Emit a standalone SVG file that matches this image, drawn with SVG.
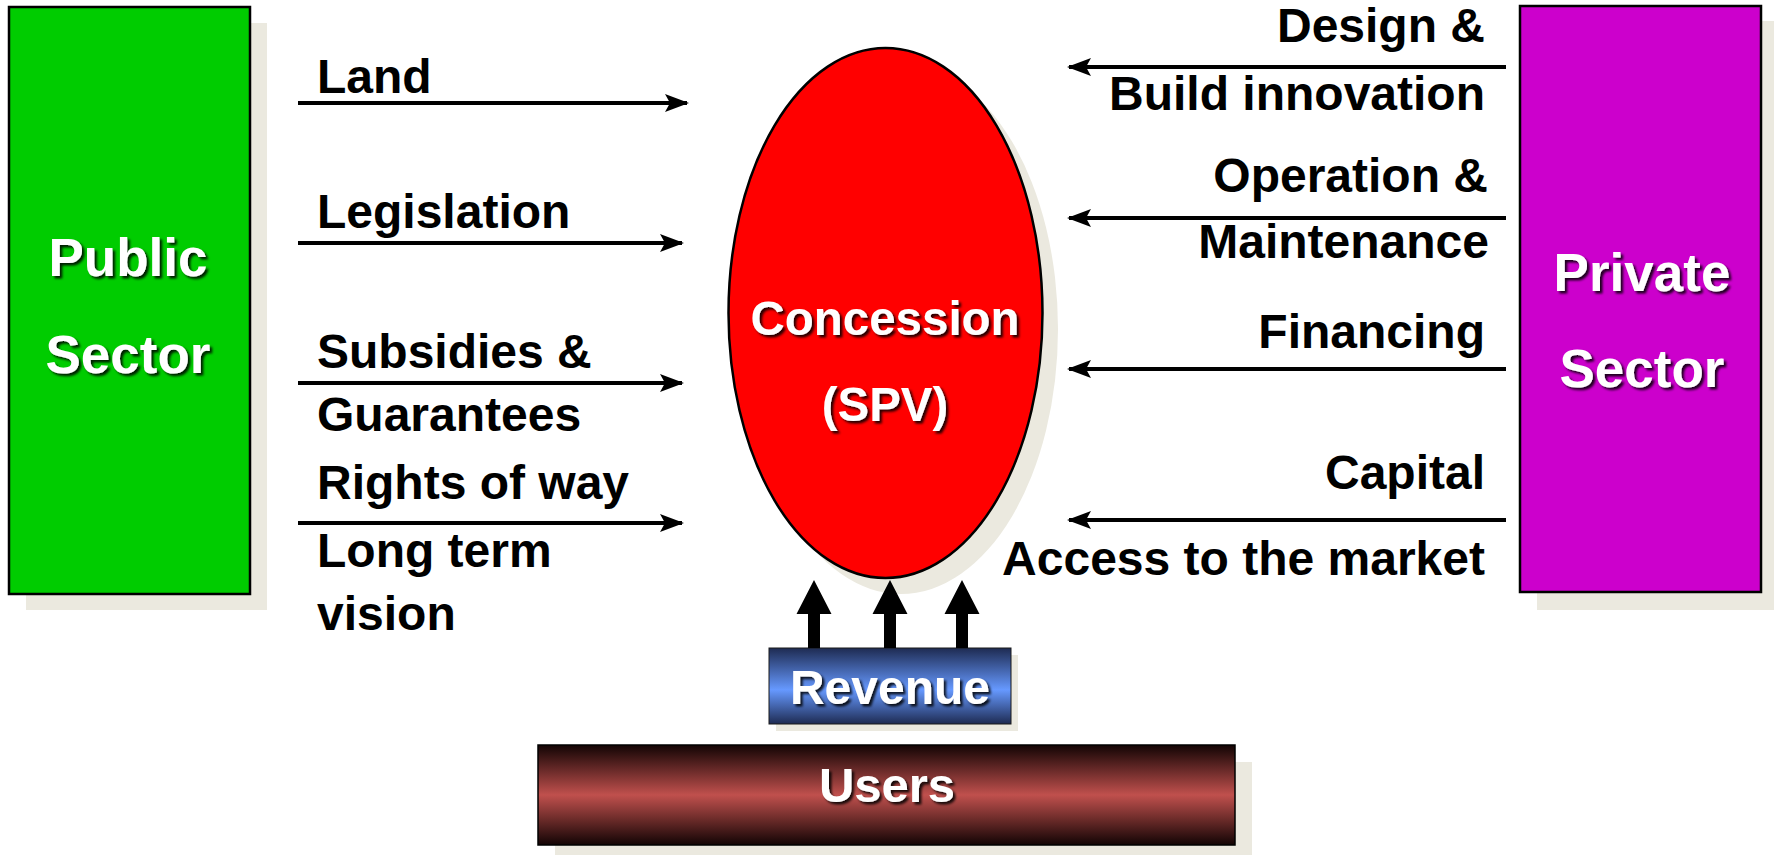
<svg xmlns="http://www.w3.org/2000/svg" width="1774" height="855" viewBox="0 0 1774 855">
<defs>
<style>
.lbl{font-family:"Liberation Sans",Arial,sans-serif;font-weight:bold;font-size:48px;fill:#000}
.big{font-family:"Liberation Sans",Arial,sans-serif;font-weight:bold;fill:#fff;text-anchor:middle;filter:url(#ts)}
.sh{fill:#EBE9DF}
.ln{stroke:#000;stroke-width:4;fill:none}
</style>
<filter id="ts" x="-10%" y="-20%" width="130%" height="150%">
<feDropShadow dx="2.5" dy="2.5" stdDeviation="1" flood-color="#000" flood-opacity="0.85"/>
</filter>
<marker id="ah" viewBox="0 0 24 18" refX="22" refY="9" markerWidth="24" markerHeight="18" markerUnits="userSpaceOnUse" orient="auto">
<path d="M0,0 L24,9 L0,18 L5,9 Z" fill="#000"/>
</marker>
<linearGradient id="gRev" x1="0" y1="0" x2="0" y2="1">
<stop offset="0" stop-color="#1E2B52"/>
<stop offset="0.55" stop-color="#6699FF"/>
<stop offset="1" stop-color="#1E2B52"/>
</linearGradient>
<linearGradient id="gUsr" x1="0" y1="0" x2="0" y2="1">
<stop offset="0" stop-color="#120404"/>
<stop offset="0.5" stop-color="#C0504D"/>
<stop offset="1" stop-color="#120404"/>
</linearGradient>
</defs>
<rect width="1774" height="855" fill="#fff"/>

<g id="public">
<rect class="sh" x="26" y="23" width="241" height="587"/>
<rect x="9" y="7" width="241" height="587" fill="#00CC00" stroke="#000" stroke-width="2.5"/>
<text class="big" x="128" y="276" font-size="53">Public</text>
<text class="big" x="128" y="373" font-size="53">Sector</text>
</g>

<g id="private">
<rect class="sh" x="1537" y="21" width="241" height="589"/>
<rect x="1520" y="6" width="241" height="586" fill="#CC00CC" stroke="#000" stroke-width="2.5"/>
<text class="big" x="1642" y="291" font-size="53">Private</text>
<text class="big" x="1642" y="387" font-size="53">Sector</text>
</g>

<g id="concession">
<ellipse class="sh" cx="901" cy="329" rx="157" ry="265"/>
<ellipse cx="885.5" cy="313" rx="157" ry="265" fill="#FF0000" stroke="#000" stroke-width="2.5"/>
<text class="big" x="885" y="335" font-size="47.5">Concession</text>
<text class="big" x="885" y="421" font-size="47.5">(SPV)</text>
</g>

<g id="revenue">
<rect class="sh" x="776" y="655" width="242" height="76"/>
<rect x="769" y="648" width="242" height="76" fill="url(#gRev)" stroke="#1a1a1a" stroke-width="1"/>
<text class="big" x="890" y="704" font-size="48">Revenue</text>
</g>

<g id="users">
<rect class="sh" x="555" y="762" width="697" height="100"/>
<rect x="538" y="745" width="697" height="100" fill="url(#gUsr)" stroke="#000" stroke-width="1.5"/>
<text class="big" x="887" y="802" font-size="49">Users</text>
</g>

<g id="labels">
<text class="lbl" x="317" y="93">Land</text>
<text class="lbl" x="317" y="228">Legislation</text>
<text class="lbl" x="317" y="368">Subsidies &amp;</text>
<text class="lbl" x="317" y="431">Guarantees</text>
<text class="lbl" x="317" y="499">Rights of way</text>
<text class="lbl" x="317" y="567">Long term</text>
<text class="lbl" x="317" y="630">vision</text>
<g text-anchor="end">
<text class="lbl" x="1485" y="42">Design &amp;</text>
<text class="lbl" x="1485" y="110">Build innovation</text>
<text class="lbl" x="1488" y="192">Operation &amp;</text>
<text class="lbl" x="1489" y="258">Maintenance</text>
<text class="lbl" x="1485" y="348">Financing</text>
<text class="lbl" x="1485" y="489">Capital</text>
<text class="lbl" x="1485" y="575">Access to the market</text>
</g>
</g>

<g id="connectors">
<line class="ln" x1="298" y1="103" x2="687" y2="103" marker-end="url(#ah)"/>
<line class="ln" x1="298" y1="243" x2="682" y2="243" marker-end="url(#ah)"/>
<line class="ln" x1="298" y1="383" x2="682" y2="383" marker-end="url(#ah)"/>
<line class="ln" x1="298" y1="523" x2="682" y2="523" marker-end="url(#ah)"/>
<line class="ln" x1="1506" y1="67" x2="1069" y2="67" marker-end="url(#ah)"/>
<line class="ln" x1="1506" y1="218" x2="1069" y2="218" marker-end="url(#ah)"/>
<line class="ln" x1="1506" y1="369" x2="1069" y2="369" marker-end="url(#ah)"/>
<line class="ln" x1="1506" y1="520" x2="1069" y2="520" marker-end="url(#ah)"/>
<polygon points="814,580 831.5,614 820,614 820,648 808,648 808,614 796.5,614" fill="#000"/>
<polygon points="890,580 907.5,614 896,614 896,648 884,648 884,614 872.5,614" fill="#000"/>
<polygon points="962,580 979.5,614 968,614 968,648 956,648 956,614 944.5,614" fill="#000"/>
</g>
</svg>
